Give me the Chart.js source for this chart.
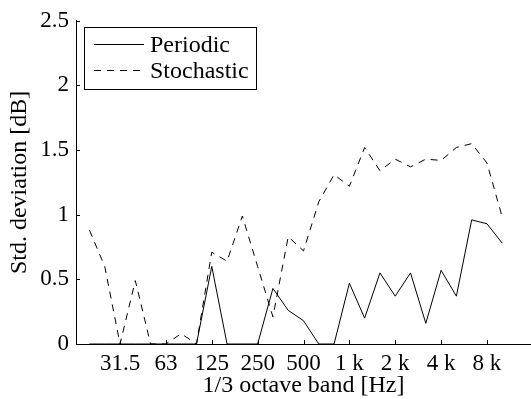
<!DOCTYPE html>
<html>
<head>
<meta charset="UTF-8">
<title>Std. deviation per 1/3 octave band</title>
<script src="https://cdn.jsdelivr.net/npm/chart.js@4"></script>
<style>
  html, body { margin: 0; padding: 0; background: #fff; overflow: hidden; }
  #wrap { width: 531px; height: 399px; position: relative; }
</style>
</head>
<body>
<div id="wrap"><canvas id="chart"></canvas></div>
<script>
// 1/3 octave bands 16 Hz .. 16 kHz, the index is the position on the x axis
const bands = ['16','20','25','31.5','40','50','63','80','100','125','160','200','250','315','400','500',
  '630','800','1 k','1.25 k','1.6 k','2 k','2.5 k','3.15 k','4 k','5 k','6.3 k','8 k','10 k','12.5 k','16 k'];
// bands that get a label on the axis
const tickBands = ['31.5','63','125','250','500','1 k','2 k','4 k','8 k'];
// measured bands, 20 Hz .. 10 kHz
const measuredBands = bands.slice(1, 29);
const periodic = [0, 0, 0, 0, 0, 0, 0, 0, 0.60, 0, 0, 0, 0.43, 0.26, 0.18, 0, 0, 0.47, 0.20, 0.55,
  0.37, 0.55, 0.16, 0.57, 0.37, 0.96, 0.93, 0.78];
const stochastic = [0.88, 0.60, 0, 0.49, 0, 0, 0.08, 0, 0.71, 0.64, 0.99, 0.60, 0.21, 0.83, 0.72, 1.10,
  1.31, 1.22, 1.52, 1.34, 1.43, 1.37, 1.43, 1.42, 1.52, 1.55, 1.40, 0.98];
const yTicks = [0, 0.5, 1, 1.5, 2, 2.5];

const serif = '"Liberation Serif", "Times New Roman", serif';

function points(vals) {
  return measuredBands.map((b, k) => ({ x: bands.indexOf(b), y: vals[k] }));
}

// matlab style ticks pointing into the plot + boxed legend
const matlabDecor = {
  id: 'matlabDecor',
  afterDraw(chart) {
    const ctx = chart.ctx;
    const area = chart.chartArea;
    const xs = chart.scales.x, ys = chart.scales.y;
    ctx.save();
    ctx.strokeStyle = '#000';
    ctx.lineWidth = 1;
    ctx.beginPath();
    tickBands.forEach(b => {
      const px = Math.round(xs.getPixelForValue(bands.indexOf(b))) + 0.5;
      ctx.moveTo(px, area.bottom);
      ctx.lineTo(px, area.bottom - 4);
    });
    yTicks.forEach(v => {
      const py = Math.round(ys.getPixelForValue(v)) + 0.5;
      ctx.moveTo(area.left, py);
      ctx.lineTo(area.left + 4, py);
    });
    ctx.stroke();

    // legend
    const lx = 84, ly = 27, lw = 172, lh = 62;
    ctx.fillStyle = '#fff';
    ctx.fillRect(lx, ly, lw, lh);
    ctx.strokeRect(lx + 0.5, ly + 0.5, lw, lh);
    ctx.font = '24px ' + serif;
    ctx.textBaseline = 'middle';
    ctx.fillStyle = '#000';
    chart.data.datasets.forEach((ds, i) => {
      const y = ly + 17.5 + i * 26;
      ctx.beginPath();
      ctx.setLineDash(ds.borderDash || []);
      ctx.moveTo(lx + 10, y);
      ctx.lineTo(lx + 60, y);
      ctx.stroke();
      ctx.setLineDash([]);
      ctx.fillText(ds.label, lx + 66, y + 1);
    });
    ctx.restore();
  }
};

new Chart(document.getElementById('chart'), {
  type: 'line',
  data: {
    datasets: [
      { label: 'Periodic', data: points(periodic), borderColor: '#000', borderWidth: 1,
        pointRadius: 0, tension: 0, fill: false },
      { label: 'Stochastic', data: points(stochastic), borderColor: '#000', borderWidth: 1,
        borderDash: [7, 6], pointRadius: 0, tension: 0, fill: false }
    ]
  },
  options: {
    responsive: true,
    maintainAspectRatio: false,
    animation: false,
    layout: { padding: { top: 19, right: 0, bottom: 0, left: 0 } },
    plugins: { legend: { display: false }, tooltip: { enabled: false } },
    scales: {
      x: {
        type: 'linear',
        min: 0.12,
        max: 29.88,
        grid: { display: false, drawTicks: false },
        border: { display: true, color: '#000', width: 1 },
        afterBuildTicks: s => { s.ticks = tickBands.map(b => ({ value: bands.indexOf(b) })); },
        afterFit: s => { s.height = 55; },
        ticks: {
          autoSkip: false, maxRotation: 0, padding: 6, color: '#000',
          font: { family: serif, size: 23 },
          callback: v => bands[v]
        },
        title: {
          display: true, text: '1/3 octave band [Hz]', color: '#000',
          font: { family: serif, size: 24, lineHeight: 1 },
          padding: { top: 0, bottom: 1 }
        }
      },
      y: {
        min: 0,
        max: 2.5,
        grid: { display: false, drawTicks: false },
        border: { display: true, color: '#000', width: 1 },
        afterBuildTicks: s => { s.ticks = yTicks.map(v => ({ value: v })); },
        afterFit: s => { s.width = 76; },
        ticks: {
          padding: 7, color: '#000',
          font: { family: serif, size: 23 },
          callback: v => String(v)
        },
        title: {
          display: true, text: 'Std. deviation [dB]', color: '#000',
          font: { family: serif, size: 24, lineHeight: 1 },
          padding: { top: 8, bottom: 0 }
        }
      }
    }
  },
  plugins: [matlabDecor]
});
</script>
</body>
</html>
